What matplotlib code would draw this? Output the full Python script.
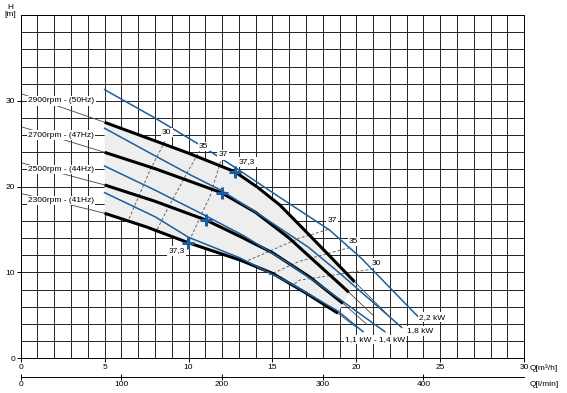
import numpy as np
import matplotlib.pyplot as plt

plt.rcParams['font.family'] = ['Liberation Sans', 'DejaVu Sans']

# curvas de la bomba: Q [m3/h], H [m]
q_2900 = [0, 2.5, 5, 7.5, 10, 12.76, 14.1, 15.44, 16.83, 18.42, 19.9, 21.8]
h_2900 = [30.85, 29.2, 27.5, 25.7, 23.9, 21.74, 19.95, 17.86, 15.1, 11.9, 8.9, 5.2]
q_2700 = [0, 2.5, 5, 8, 11.97, 14, 16, 17.8, 19.55, 21.0]
h_2700 = [27.0, 25.5, 24.0, 22.1, 19.29, 17.0, 14.0, 10.8, 7.7, 5.0]
q_2500 = [0, 2.5, 5, 8, 11.04, 13.07, 15, 17.2, 19.2, 20.6]
h_2500 = [22.8, 21.5, 20.2, 18.3, 16.11, 14.2, 12.3, 9.5, 6.4, 4.0]
q_2300 = [0, 2.5, 5, 7.5, 9.98, 11.87, 13.07, 15, 17, 18.9, 20.0]
h_2300 = [19.2, 18.1, 16.9, 15.3, 13.47, 12.23, 11.45, 9.9, 7.6, 5.25, 3.6]
curvas = [(q_2900, h_2900), (q_2700, h_2700), (q_2500, h_2500), (q_2300, h_2300)]
etiquetas = ['2900rpm - (50Hz)', '2700rpm - (47Hz)', '2500rpm - (44Hz)', '2300rpm - (41Hz)']
q_fin_grueso = [19.9, 19.55, 19.2, 18.9]

# lineas azules
q_azul_22 = [5, 8, 10.9, 12.8, 15.4, 18.4, 20.3, 23.7]
h_azul_22 = [31.3, 28.0, 24.6, 22.2, 18.8, 14.95, 11.65, 4.8]
q_azul_18 = [5, 8, 10.15, 11.92, 14.34, 17.13, 18.9, 22.7]
h_azul_18 = [26.8, 23.6, 21.33, 19.6, 16.6, 12.96, 10.1, 3.6]
q_azul_14 = [5, 8, 11.03, 13.27, 15.86, 18, 21.7]
h_azul_14 = [22.4, 19.6, 16.6, 14.3, 11.2, 8.3, 3.1]
q_azul_11 = [5, 8, 10, 13.06, 16, 18.9, 20.4]
h_azul_11 = [19.3, 16.5, 14.1, 11.7, 8.8, 5.5, 3.1]
azules = [(q_azul_22, h_azul_22), (q_azul_18, h_azul_18),
          (q_azul_14, h_azul_14), (q_azul_11, h_azul_11)]

# punto de rendimiento maximo (37,3 %)
q_max = [12.76, 11.97, 11.04, 9.98]
h_max = [21.74, 19.29, 16.11, 13.47]

# isolineas de rendimiento
iso_q = [[8.6, 7.7, 6.4], [10.7, 10.0, 8.8, 8.1], [12.0, 11.3, 10.0],
         [18.3, 16.6, 14.5, 13.3], [19.6, 16.6, 14.8], [21.0, 16.6, 16.2]]
iso_h = [[25.3, 21.9, 16.0], [24.3, 21.9, 17.6, 14.9], [23.5, 19.0, 13.5],
         [15.0, 14.0, 12.2, 11.2], [12.9, 11.3, 9.7], [10.4, 9.1, 8.5]]

fig = plt.figure(figsize=(5.67, 3.93), dpi=100)
ax = fig.add_axes([0.0365, 0.0883, 0.888, 0.8735])
ax.set_xlim(0, 30)
ax.set_ylim(0, 40)

ax.set_xticks(np.arange(0, 31, 5))
ax.set_yticks([0, 10, 20, 30])
ax.set_xticks(np.arange(0, 31, 1), minor=True)
ax.set_yticks(np.arange(0, 41, 2), minor=True)
ax.grid(which='both', color='#222222', lw=0.7)
ax.tick_params(which='minor', length=0)
ax.tick_params(which='major', length=3, width=0.7, labelsize=6, pad=1)
for s in ax.spines.values():
    s.set_linewidth(0.7)
ax.set_axisbelow(True)

# zona sombreada
qa = np.array(q_2900); ha = np.array(h_2900)
qb = np.array(q_2300); hb = np.array(h_2300)
m_a = (qa >= 5) & (qa <= 19.9)
m_b = (qb >= 5) & (qb <= 18.9)
px = list(qa[m_a]) + list(qb[m_b][::-1])
py = list(ha[m_a]) + list(hb[m_b][::-1])
ax.fill(px, py, color='#eeeeee', zorder=1.5, lw=0)

for qi, hi in zip(iso_q, iso_h):
    ax.plot(qi, hi, color='#666666', lw=0.7, ls=(0, (3, 2)), zorder=2)

for (q, h), qf in zip(curvas, q_fin_grueso):
    q = np.array(q); h = np.array(h)
    ax.plot(q, h, color='#444444', lw=0.6, zorder=2.5)
    m = (q >= 5) & (q <= qf + 0.01)
    ax.plot(q[m], h[m], color='black', lw=2.2, zorder=3, solid_capstyle='butt')

for q, h in azules:
    ax.plot(q, h, color='#1b5e9b', lw=1.1, zorder=4)

ax.plot(q_max, h_max, '+', color='#1b5e9b', ms=8, mew=2.2, zorder=5)

caja = dict(boxstyle='square,pad=0.15', fc='white', ec='none')
y_etiq = [30.0, 26.0, 22.0, 18.4]
for t, y in zip(etiquetas, y_etiq):
    ax.text(0.45, y, t, fontsize=6, va='center', ha='left', bbox=caja, zorder=6)

for t, x, y in [('30', 8.7, 26.3), ('35', 10.9, 24.7), ('37', 12.05, 23.7),
                ('37,3', 13.5, 22.9), ('37,3', 9.3, 12.5), ('37', 18.55, 16.0),
                ('35', 19.85, 13.6), ('30', 21.2, 11.1)]:
    ax.text(x, y, t, fontsize=6, ha='center', va='center', bbox=caja, zorder=6)

for t, x, y in [('2,2 kW', 24.5, 4.8), ('1,8 kW', 23.8, 3.2), ('1,1 kW - 1,4 kW', 21.1, 2.2)]:
    ax.text(x, y, t, fontsize=6, ha='center', va='center', bbox=caja, zorder=6)

# eje secundario en l/min
sec = ax.secondary_xaxis(-0.0536, functions=(lambda x: x * 1000 / 60, lambda x: x * 60 / 1000))
sec.set_xticks([0, 100, 200, 300, 400])
sec.tick_params(length=4, width=0.7, direction='inout', labelsize=6, pad=1)
sec.spines['bottom'].set_linewidth(0.7)

fig.text(530 / 567, 1 - 368 / 393, 'Q[m³/h]', fontsize=6, va='center')
fig.text(530 / 567, 1 - 384 / 393, 'Q[l/min]', fontsize=6, va='center')
fig.text(10 / 567, 1 - 11 / 393, 'H\n[m]', fontsize=6, va='center', ha='center', linespacing=1.0)

fig.savefig('out.png', dpi=100)
